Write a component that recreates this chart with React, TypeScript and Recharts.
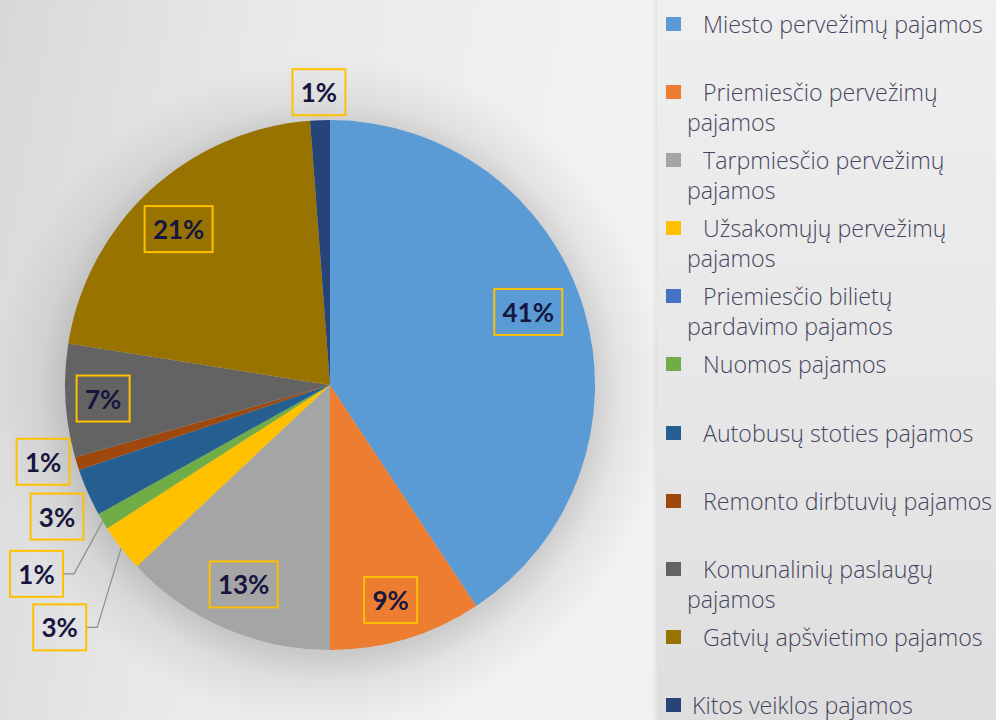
import { Legend, Pie, PieChart } from "recharts";

const categories = [
  "Miesto pervežimų pajamos",
  "Priemiesčio pervežimų pajamos",
  "Tarpmiesčio pervežimų pajamos",
  "Užsakomųjų pervežimų pajamos",
  "Priemiesčio bilietų pardavimo pajamos",
  "Nuomos pajamos",
  "Autobusų stoties pajamos",
  "Remonto dirbtuvių pajamos",
  "Komunalinių paslaugų pajamos",
  "Gatvių apšvietimo pajamos",
  "Kitos veiklos pajamos",
];

// share of total income, %
const shares = [40.7, 9.3, 13.0, 2.9, 0, 1.0, 2.9, 0.8, 6.9, 21.3, 1.2];

const colors = [
  "#5B9BD5",
  "#ED7D31",
  "#A5A5A5",
  "#FFC000",
  "#4472C4",
  "#70AD47",
  "#255E91",
  "#9E480E",
  "#636363",
  "#997300",
  "#264478",
];

// label placement tweaks [angle deg clockwise, radius px], like the "best fit" layout
const labelNudge: [number, number][] = [
  [-3.5, -6],
  [1, 6],
  [0, 0],
  [-3.9, 98],
  [0, 0],
  [-1.8, 84],
  [-1.8, 38],
  [2.3, 32],
  [0, 10],
  [-1.5, 0],
  [0, 28],
];

const CX = 330;
const CY = 385;
const R = 265;
const RAD = Math.PI / 180;

const data = categories.map((name, i) => ({ name, value: shares[i], fill: colors[i] }));

function polar(theta: number, r: number) {
  // theta clockwise from 12 o'clock
  return { x: CX + r * Math.sin(theta * RAD), y: CY - r * Math.cos(theta * RAD) };
}

function renderLabel(props: any) {
  const { midAngle, percent, index, value } = props;
  if (!value) return null;
  const pct = Math.round(percent * 100);
  const theta = 90 - midAngle;
  const inside = percent >= 0.05;
  const [dt, dr] = labelNudge[index];
  const baseR = inside ? R * 0.82 : R;
  const p = polar(theta + dt, baseR + dr);
  const text = `${pct}%`;
  const w = 15 * text.length + 23;
  const h = 46;
  const showLine = !inside && dr > 60;
  const edge = polar(theta, R);
  return (
    <g key={`lbl-${index}`}>
      {showLine && (
        <polyline
          points={`${p.x + w / 2},${p.y} ${p.x + w / 2 + 11},${p.y} ${edge.x},${edge.y}`}
          fill="none"
          stroke="#8c8c8c"
          strokeWidth={1.2}
        />
      )}
      <rect x={p.x - w / 2} y={p.y - h / 2} width={w} height={h} fill="none" stroke="#FFC000" strokeWidth={2} />
      <text
        x={p.x}
        y={p.y}
        textAnchor="middle"
        dominantBaseline="central"
        fontFamily="Lato, 'Open Sans', sans-serif"
        fontWeight={700}
        fontSize={26}
        fill="#16163f"
      >
        {text}
      </text>
    </g>
  );
}

function renderLegend(props: any) {
  const payload = [...(props.payload || [])].sort(
    (a: any, b: any) => categories.indexOf(a.value) - categories.indexOf(b.value)
  );
  return (
    <div style={{ position: "relative", paddingTop: 9 }}>
      {payload.map((entry: any, i: number) => (
        <div
          key={i}
          style={{
            position: "relative",
            height: 68.1,
            paddingLeft: 30,
            paddingRight: 0,
            textIndent: i === payload.length - 1 ? 5 : 16,
            fontFamily: "'Open Sans', sans-serif",
            fontWeight: 300,
            fontSize: 23.2,
            lineHeight: "30px",
            color: "#45455e",
            boxSizing: "border-box",
          }}
        >
          <span
            style={{
              position: "absolute",
              left: 9,
              top: 8,
              width: 15,
              height: 14,
              background: entry.color,
            }}
          />
          {entry.value}
        </div>
      ))}
    </div>
  );
}

export default function App() {
  return (
    <div
      style={{
        position: "absolute",
        left: 0,
        top: 0,
        width: 996,
        height: 720,
        overflow: "hidden",
        background:
          "radial-gradient(circle at 330px 392px, rgba(0,0,0,0.15) 0px, rgba(0,0,0,0.15) 262px, rgba(0,0,0,0.06) 290px, rgba(0,0,0,0) 335px), linear-gradient(100deg, #d8d8d8 0%, #e9e9e9 25%, #f2f2f2 55%, #efefef 100%)",
      }}
    >
      <div
        style={{
          position: "absolute",
          left: 657,
          top: 0,
          width: 339,
          height: 720,
          background: "linear-gradient(180deg, #efefef 0%, #e6e6e6 60%, #dedede 100%)",
          boxShadow: "-2px 0 4px rgba(0,0,0,0.07)",
        }}
      />
      <PieChart width={996} height={720} margin={{ top: 0, right: 0, bottom: 0, left: 0 }}>
        <Pie
          data={data}
          dataKey="value"
          nameKey="name"
          cx={CX}
          cy={CY}
          outerRadius={R}
          startAngle={90}
          endAngle={-270}
          stroke="none"
          label={renderLabel}
          labelLine={false}
          isAnimationActive={false}
        />
        <Legend
          layout="vertical"
          align="right"
          verticalAlign="top"
          content={renderLegend}
          wrapperStyle={{ left: 657, top: 0, width: 339, height: 720 }}
        />
      </PieChart>
    </div>
  );
}
